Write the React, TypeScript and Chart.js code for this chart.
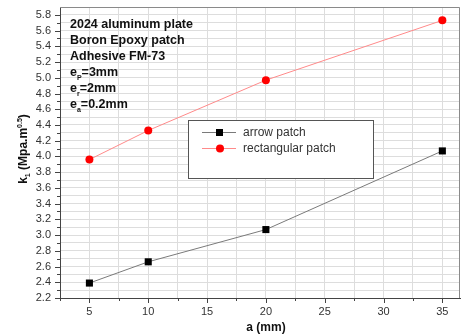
import React, { useEffect, useRef } from "react";
import { Chart, registerables } from "chart.js";

Chart.register(...registerables);

const A_VALUES = [5, 10, 20, 35];
const ARROW_K = [2.39, 2.66, 3.07, 4.07];
const RECT_K = [3.96, 4.33, 4.97, 5.73];
const SERIES_NAMES = ["arrow patch", "rectangular patch"];
const NOTE_LINES: [string, string, string][] = [
  ["2024 aluminum plate", "", ""],
  ["Boron Epoxy patch", "", ""],
  ["Adhesive FM-73", "", ""],
  ["e", "P", "=3mm"],
  ["e", "r", "=2mm"],
  ["e", "a", "=0.2mm"],
];
const X_TITLE = "a (mm)";
const X_MIN = 2.5;
const X_MAX = 36.5;
const X_STEP = 2.5;
const Y_MIN = 2.2;
const Y_MAX = 5.9;
const Y_STEP = 0.1;

const FONT = "'Liberation Sans', Arial, sans-serif";

const decorPlugin = {
  id: "decor",
  afterDraw(chart: any) {
    const ctx = chart.ctx;
    const ca = chart.chartArea;
    const xs = chart.scales.x;
    const ys = chart.scales.y;
    ctx.save();
    // frame top/right
    ctx.strokeStyle = "#8a8a8a";
    ctx.lineWidth = 1;
    ctx.beginPath();
    ctx.moveTo(ca.left, ca.top + 0.5);
    ctx.lineTo(ca.right - 0.5, ca.top + 0.5);
    ctx.lineTo(ca.right - 0.5, ca.bottom);
    ctx.stroke();
    // tick marks
    ctx.strokeStyle = "#444";
    ctx.beginPath();
    ys.ticks.forEach((t: any) => {
      const v = Math.round(t.value * 10);
      if (t.value < Y_MIN - 1e-6 || t.value > Y_MAX - 0.05) return;
      const py = Math.round(ys.getPixelForValue(t.value)) + 0.5;
      const len = v % 2 === 0 ? 5 : 3;
      ctx.moveTo(ca.left - len, py);
      ctx.lineTo(ca.left, py);
    });
    xs.ticks.forEach((t: any) => {
      const v = Math.round(t.value * 10);
      if (v % 25 !== 0 || t.value > X_MAX - 0.5) return;
      const px = Math.round(xs.getPixelForValue(t.value)) + 0.5;
      const len = v % 50 === 0 ? 5 : 3;
      ctx.moveTo(px, ca.bottom);
      ctx.lineTo(px, ca.bottom + len);
    });
    ctx.stroke();

    // annotation
    ctx.fillStyle = "#111";
    ctx.textBaseline = "alphabetic";
    ctx.textAlign = "left";
    const nx = ca.left + 10;
    let ny = ca.top + 21;
    NOTE_LINES.forEach(([main, sub, rest]) => {
      ctx.font = `bold 12.5px ${FONT}`;
      ctx.fillText(main, nx, ny);
      let w = ctx.measureText(main).width;
      if (sub) {
        ctx.font = `bold 7px ${FONT}`;
        ctx.fillText(sub, nx + w, ny + 4);
        w += ctx.measureText(sub).width;
        ctx.font = `bold 12.5px ${FONT}`;
        ctx.fillText(rest, nx + w, ny);
      }
      ny += 15.9;
    });

    // legend
    const lx = ca.left + 128;
    const ly = ca.top + 113;
    const lw = 185;
    const lh = 58;
    ctx.fillStyle = "#fff";
    ctx.fillRect(lx, ly, lw, lh);
    ctx.strokeStyle = "#555";
    ctx.lineWidth = 1;
    ctx.strokeRect(lx + 0.5, ly + 0.5, lw, lh);
    const items = [
      { name: SERIES_NAMES[0], line: "#7a7a7a", fill: "#000", shape: "rect" },
      { name: SERIES_NAMES[1], line: "#ff8a8a", fill: "#ff0000", shape: "circle" },
    ];
    items.forEach((it, i) => {
      const cy = ly + 12 + i * 16;
      ctx.strokeStyle = it.line;
      ctx.beginPath();
      ctx.moveTo(lx + 14, cy + 0.5);
      ctx.lineTo(lx + 48, cy + 0.5);
      ctx.stroke();
      ctx.fillStyle = it.fill;
      if (it.shape === "rect") {
        ctx.fillRect(lx + 28, cy - 3, 7, 7);
      } else {
        ctx.beginPath();
        ctx.arc(lx + 32, cy + 0.5, 4, 0, Math.PI * 2);
        ctx.fill();
      }
      ctx.fillStyle = "#333";
      ctx.font = `12px ${FONT}`;
      ctx.textBaseline = "middle";
      ctx.fillText(it.name, lx + 55, cy + 1);
    });

    // x title
    ctx.fillStyle = "#111";
    ctx.font = `bold 12px ${FONT}`;
    ctx.textAlign = "center";
    ctx.textBaseline = "middle";
    ctx.fillText(X_TITLE, (ca.left + ca.right) / 2 + 6, 328);

    // y title (rotated)
    ctx.save();
    ctx.translate(23, 149);
    ctx.rotate(-Math.PI / 2);
    const parts: [string, string, number][] = [
      ["k", "n", 0],
      ["1", "s", 3],
      [" (Mpa.m", "n", 0],
      ["0.5", "s", -5],
      [")", "n", 0],
    ];
    let total = 0;
    parts.forEach(([t, k]) => {
      ctx.font = k === "n" ? `bold 12px ${FONT}` : `bold 7px ${FONT}`;
      total += ctx.measureText(t).width;
    });
    let px = -total / 2;
    ctx.textAlign = "left";
    ctx.textBaseline = "alphabetic";
    parts.forEach(([t, k, dy]) => {
      ctx.font = k === "n" ? `bold 12px ${FONT}` : `bold 7px ${FONT}`;
      ctx.fillText(t, px, 4 + dy);
      px += ctx.measureText(t).width;
    });
    ctx.restore();
    ctx.restore();
  },
};

export default function App() {
  const ref = useRef<HTMLCanvasElement>(null);
  useEffect(() => {
    if (!ref.current) return;
    const chart = new Chart(ref.current, {
      type: "line",
      data: {
        datasets: [
          {
            label: SERIES_NAMES[0],
            data: A_VALUES.map((a, i) => ({ x: a, y: ARROW_K[i] })),
            borderColor: "#7a7a7a",
            borderWidth: 1,
            backgroundColor: "#000",
            pointStyle: "rect",
            pointRadius: 5,
            pointBorderWidth: 0,
            pointBackgroundColor: "#000",
          },
          {
            label: SERIES_NAMES[1],
            data: A_VALUES.map((a, i) => ({ x: a, y: RECT_K[i] })),
            borderColor: "#ff8a8a",
            borderWidth: 1,
            backgroundColor: "#ff0000",
            pointStyle: "circle",
            pointRadius: 4,
            pointBorderWidth: 0,
            pointBackgroundColor: "#ff0000",
          },
        ],
      },
      options: {
        animation: false,
        responsive: false,
        layout: { padding: { left: 0, top: 7, right: 3, bottom: 0 } },
        plugins: { legend: { display: false }, tooltip: { enabled: false } },
        scales: {
          x: {
            type: "linear",
            min: X_MIN,
            max: X_MAX,
            afterFit: (s: any) => {
              s.height = 38;
              s.paddingLeft = 0;
              s.paddingRight = 0;
            },
            ticks: {
              stepSize: X_STEP,
              includeBounds: false,
              autoSkip: false,
              maxRotation: 0,
              padding: 7,
              color: "#333",
              font: { family: FONT, size: 11 },
              callback: (v: any) => {
                const n = Math.round(Number(v) * 10);
                return n % 50 === 0 ? String(n / 10) : "";
              },
            },
            grid: { color: "#dddddd", drawTicks: false },
            border: { display: true, color: "#444" },
          },
          y: {
            type: "linear",
            min: Y_MIN,
            max: Y_MAX,
            afterFit: (s: any) => {
              s.width = 60;
              s.paddingTop = 0;
              s.paddingBottom = 0;
            },
            ticks: {
              stepSize: Y_STEP,
              includeBounds: false,
              autoSkip: false,
              padding: 9,
              color: "#333",
              font: { family: FONT, size: 11 },
              callback: (v: any) => {
                const n = Math.round(Number(v) * 10);
                return n % 2 === 0 ? (n / 10).toFixed(1) : "";
              },
            },
            grid: { color: "#dddddd", drawTicks: false },
            border: { display: true, color: "#444" },
          },
        },
      },
      plugins: [decorPlugin],
    });
    return () => chart.destroy();
  }, []);
  return (
    <div style={{ position: "absolute", left: 0, top: 0, width: 465, height: 336, background: "#fff" }}>
      <canvas ref={ref} width={465} height={336} style={{ display: "block" }} />
    </div>
  );
}
